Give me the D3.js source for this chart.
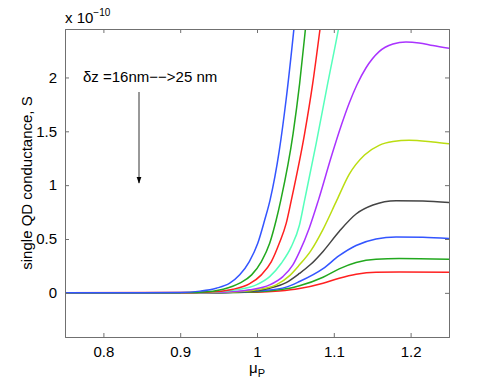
<!DOCTYPE html>
<html>
<head>
<meta charset="utf-8">
<script src="https://cdn.jsdelivr.net/npm/d3@7"></script>
<style>
  body { margin: 0; background: #fff; }
  text { font-family: "Liberation Sans", Arial, sans-serif; fill: #000; }
</style>
</head>
<body>
<div id="chart"></div>
<script>
// data: [mu_P, G (x1e-10 S)]
const blue1 = [[0.75,0],[0.85,0.0005],[0.9,0.003],[0.926,0.016],[0.947,0.043],[0.9645,0.09],[0.9775,0.167],[0.99,0.29],[1.001,0.46],[1.01,0.676],[1.017,0.861],[1.029,1.32],[1.038,1.8],[1.048,2.447],[1.055,2.95]];
const green1 = [[0.75,0],[0.85,0],[0.9,0.002],[0.926,0.006],[0.956,0.034],[0.9775,0.09],[0.993,0.167],[1.0057,0.29],[1.0165,0.46],[1.025,0.676],[1.031,0.861],[1.047,1.479],[1.0555,1.942],[1.063,2.447],[1.07,2.95]];
const red1 = [[0.75,0],[0.9,0.001],[0.934,0.006],[0.969,0.034],[0.99,0.083],[1.0057,0.167],[1.0187,0.29],[1.029,0.46],[1.038,0.645],[1.0447,0.861],[1.062,1.479],[1.0725,1.942],[1.082,2.447],[1.09,2.9]];
const cyan1 = [[0.75,0],[0.9,0.001],[0.943,0.006],[0.973,0.028],[0.999,0.074],[1.0165,0.151],[1.0317,0.275],[1.0447,0.429],[1.0553,0.63],[1.062,0.861],[1.077,1.386],[1.092,1.942],[1.106,2.447],[1.115,2.8]];
const purple1 = [[0.75,0],[0.9,0.0005],[0.956,0.006],[0.99,0.028],[1.0165,0.074],[1.0337,0.151],[1.0467,0.259],[1.0553,0.38],[1.068,0.6],[1.08,0.861],[1.097,1.27],[1.11,1.56],[1.12,1.76],[1.13,1.93],[1.142,2.09],[1.159,2.24],[1.177,2.31],[1.194,2.33],[1.211,2.321],[1.229,2.296],[1.25,2.27]];
const yellow1 = [[0.75,0],[0.9,0],[0.9645,0.006],[0.999,0.028],[1.025,0.074],[1.0425,0.16],[1.0553,0.26],[1.07,0.39],[1.086,0.59],[1.104,0.861],[1.12,1.1],[1.14,1.28],[1.159,1.37],[1.177,1.405],[1.198,1.417],[1.229,1.401],[1.25,1.385]];
const gray1 = [[0.75,0],[0.95,0.002],[0.986,0.012],[1.0165,0.043],[1.038,0.095],[1.0553,0.18],[1.07,0.265],[1.086,0.385],[1.107,0.57],[1.129,0.732],[1.151,0.815],[1.181,0.855],[1.216,0.852],[1.25,0.838]];
const blue2 = [[0.75,0],[0.95,0.001],[1.008,0.021],[1.038,0.053],[1.0553,0.105],[1.086,0.225],[1.107,0.345],[1.129,0.44],[1.155,0.5],[1.181,0.519],[1.216,0.516],[1.25,0.505]];
const green2 = [[0.75,0],[0.95,0.0005],[1.0,0.01],[1.029,0.028],[1.0425,0.042],[1.0553,0.065],[1.086,0.145],[1.107,0.222],[1.129,0.281],[1.155,0.312],[1.185,0.318],[1.25,0.311]];
const red2 = [[0.75,0],[1.0,0.006],[1.029,0.017],[1.0553,0.04],[1.086,0.09],[1.107,0.136],[1.129,0.173],[1.155,0.192],[1.185,0.194],[1.25,0.192]];

const seriesList = [red2, green2, blue2, gray1, yellow1, purple1, cyan1, red1, green1, blue1];
const seriesColors = ["#ff2020", "#22a81e", "#3355ff", "#444444", "#bbdd11", "#aa33ff", "#55ffbb", "#ff2020", "#22a81e", "#3355ff"];

const xTicks = [0.8, 0.9, 1, 1.1, 1.2];
const yTicks = [0, 0.5, 1, 1.5, 2];

var width = 495, height = 382;
var margin = { left: 65, right: 46, top: 29, bottom: 45 };

var svg = d3.select("#chart").append("svg")
    .attr("width", width)
    .attr("height", height);

var x = d3.scaleLinear().domain([0.75, 1.25]).range([margin.left, width - margin.right]);
var y = d3.scaleLinear().domain([-0.41, 2.45]).range([height - margin.bottom, margin.top]);

svg.append("clipPath").attr("id", "plotclip")
  .append("rect")
    .attr("x", margin.left).attr("y", margin.top)
    .attr("width", width - margin.left - margin.right)
    .attr("height", height - margin.top - margin.bottom);

// curves
var line = d3.line()
    .x(d => x(d[0]))
    .y(d => y(d[1]))
    .curve(d3.curveMonotoneX);

svg.append("g").attr("clip-path", "url(#plotclip)")
  .selectAll("path")
  .data(seriesList)
  .join("path")
    .attr("d", line)
    .attr("fill", "none")
    .attr("stroke", (d, i) => seriesColors[i])
    .attr("stroke-width", 1.5);

// axes box with inward ticks (matlab style)
var axColor = "#707070";
var tickLen = 4;
var fmt = d => String(d);

svg.append("g")
    .attr("transform", "translate(0," + (height - margin.bottom) + ")")
    .call(d3.axisBottom(x).tickValues(xTicks).tickSize(-tickLen).tickPadding(9).tickFormat(fmt));
svg.append("g")
    .attr("transform", "translate(0," + margin.top + ")")
    .call(d3.axisTop(x).tickValues(xTicks).tickSize(-tickLen).tickFormat(""));
svg.append("g")
    .attr("transform", "translate(" + margin.left + ",0)")
    .call(d3.axisLeft(y).tickValues(yTicks).tickSize(-tickLen).tickPadding(8).tickFormat(fmt));
svg.append("g")
    .attr("transform", "translate(" + (width - margin.right) + ",0)")
    .call(d3.axisRight(y).tickValues(yTicks).tickSize(-tickLen).tickFormat(""));

svg.selectAll(".domain").attr("stroke", axColor);
svg.selectAll(".tick line").attr("stroke", axColor);
svg.selectAll(".tick text")
    .style("font-family", "Liberation Sans, Arial, sans-serif")
    .style("font-size", "15px")
    .attr("fill", "#000");

// exponent label
var expo = svg.append("text")
    .attr("x", margin.left)
    .attr("y", 23)
    .style("font-size", "15px");
expo.append("tspan").text("x 10");
expo.append("tspan").attr("dy", -7).style("font-size", "10px").text("\u221210");

// axis labels
svg.append("text")
    .attr("x", x(1))
    .attr("y", 373)
    .attr("text-anchor", "middle")
    .style("font-size", "15px")
    .call(t => {
        t.append("tspan").text("\u03bc");
        t.append("tspan").attr("dy", 4).style("font-size", "11px").text("P");
    });

svg.append("text")
    .attr("transform", "translate(32," + ((margin.top + height - margin.bottom) / 2) + ") rotate(-90)")
    .attr("text-anchor", "middle")
    .style("font-size", "15px")
    .text("single QD conductance, S");

// annotation
svg.append("text")
    .attr("x", 83)
    .attr("y", 82)
    .style("font-size", "15px")
    .text("\u03b4z =16nm\u2212\u2212>25 nm");

svg.append("defs").append("marker")
    .attr("id", "arrowhead")
    .attr("viewBox", "0 0 10 10")
    .attr("refX", 9).attr("refY", 5)
    .attr("markerWidth", 7).attr("markerHeight", 7)
    .attr("orient", "auto")
  .append("path")
    .attr("d", "M0,1.5 L10,5 L0,8.5 z")
    .attr("fill", "#000");

svg.append("line")
    .attr("x1", 139).attr("y1", 92)
    .attr("x2", 139).attr("y2", 183)
    .attr("stroke", "#333")
    .attr("stroke-width", 1)
    .attr("marker-end", "url(#arrowhead)");
</script>
</body>
</html>
